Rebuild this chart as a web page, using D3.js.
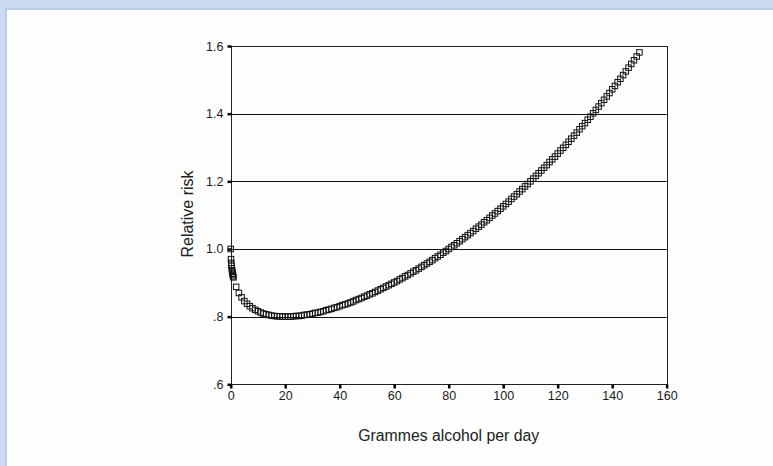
<!DOCTYPE html>
<html>
<head>
<meta charset="utf-8">
<script src="https://cdn.jsdelivr.net/npm/d3@7/dist/d3.min.js"></script>
<style>
  body { margin: 0; background: #fff; }
  svg { display: block; font-family: Arial, "Liberation Sans", sans-serif; }
</style>
</head>
<body>
<div id="chart"></div>
<script>
// grams per day (x) and relative risk (y)
const grams = [0, 0.1, 0.2, 0.3, 0.4, 0.5, 0.6, 0.7, 0.8, 0.9,
    1, 2, 3, 4, 5, 6, 7, 8, 9, 10,
    11, 12, 13, 14, 15, 16, 17, 18, 19, 20,
    21, 22, 23, 24, 25, 26, 27, 28, 29, 30,
    31, 32, 33, 34, 35, 36, 37, 38, 39, 40,
    41, 42, 43, 44, 45, 46, 47, 48, 49, 50,
    51, 52, 53, 54, 55, 56, 57, 58, 59, 60,
    61, 62, 63, 64, 65, 66, 67, 68, 69, 70,
    71, 72, 73, 74, 75, 76, 77, 78, 79, 80,
    81, 82, 83, 84, 85, 86, 87, 88, 89, 90,
    91, 92, 93, 94, 95, 96, 97, 98, 99, 100,
    101, 102, 103, 104, 105, 106, 107, 108, 109, 110,
    111, 112, 113, 114, 115, 116, 117, 118, 119, 120,
    121, 122, 123, 124, 125, 126, 127, 128, 129, 130,
    131, 132, 133, 134, 135, 136, 137, 138, 139, 140,
    141, 142, 143, 144, 145, 146, 147, 148, 149, 150]

const risk = [1.000, 0.970, 0.959, 0.950, 0.943, 0.937, 0.932, 0.927, 0.923, 0.919,
    0.916, 0.888, 0.870, 0.857, 0.846, 0.838, 0.831, 0.825, 0.820, 0.816,
    0.812, 0.809, 0.807, 0.805, 0.803, 0.802, 0.801, 0.801, 0.800, 0.800,
    0.800, 0.800, 0.801, 0.802, 0.802, 0.803, 0.805, 0.806, 0.807, 0.809,
    0.811, 0.812, 0.814, 0.816, 0.819, 0.821, 0.823, 0.826, 0.828, 0.831,
    0.834, 0.836, 0.839, 0.842, 0.845, 0.849, 0.852, 0.855, 0.859, 0.862,
    0.866, 0.869, 0.873, 0.877, 0.881, 0.885, 0.889, 0.893, 0.897, 0.901,
    0.905, 0.910, 0.914, 0.919, 0.923, 0.928, 0.933, 0.937, 0.942, 0.947,
    0.952, 0.957, 0.962, 0.967, 0.973, 0.978, 0.983, 0.989, 0.994, 1.000,
    1.006, 1.011, 1.017, 1.023, 1.029, 1.035, 1.041, 1.047, 1.053, 1.060,
    1.066, 1.072, 1.079, 1.085, 1.092, 1.099, 1.105, 1.112, 1.119, 1.126,
    1.133, 1.140, 1.148, 1.155, 1.162, 1.170, 1.177, 1.185, 1.192, 1.200,
    1.208, 1.216, 1.224, 1.232, 1.240, 1.248, 1.257, 1.265, 1.273, 1.282,
    1.291, 1.299, 1.308, 1.317, 1.326, 1.335, 1.344, 1.354, 1.363, 1.372,
    1.382, 1.391, 1.401, 1.411, 1.421, 1.431, 1.441, 1.451, 1.461, 1.472,
    1.482, 1.493, 1.503, 1.514, 1.525, 1.536, 1.547, 1.558, 1.569, 1.581]

const xTicks = [0, 20, 40, 60, 80, 100, 120, 140, 160]
const yTicks = [0.6, 0.8, 1.0, 1.2, 1.4, 1.6]
const yTickLabels = [".6", ".8", "1.0", "1.2", "1.4", "1.6"]

const width = 773, height = 466

const svg = d3.select("#chart")
    .append("svg")
    .attr("width", width)
    .attr("height", height)

// blue window frame
svg.append("rect").attr("width", width).attr("height", height).attr("fill", "#cbdaf0")
svg.append("rect").attr("x", 5).attr("y", 8).attr("width", width - 5).attr("height", height - 8).attr("fill", "#b9cdea")
svg.append("rect").attr("x", 7).attr("y", 10).attr("width", width - 7).attr("height", height - 10).attr("fill", "#fdfdfd")

const x = d3.scaleLinear().domain([0, 160]).range([230.7, 666.7])
const y = d3.scaleLinear().domain([0.6, 1.6]).range([384.3, 46])

// gridlines
svg.append("g")
    .selectAll("line")
    .data(yTicks.slice(1, -1))
    .join("line")
    .attr("x1", x(0)).attr("x2", x(160))
    .attr("y1", d => Math.round(y(d)) + 0.5).attr("y2", d => Math.round(y(d)) + 0.5)
    .attr("stroke", "#111")

// plot frame
svg.append("rect")
    .attr("x", Math.round(x(0)) + 0.5).attr("y", Math.round(y(1.6)) + 0.5)
    .attr("width", Math.round(x(160)) - Math.round(x(0)))
    .attr("height", Math.round(y(0.6)) - Math.round(y(1.6)))
    .attr("fill", "none")
    .attr("stroke", "#222")

// axes
const yAxis = svg.append("g")
    .attr("transform", `translate(${Math.round(x(0)) + 0.5},0)`)
    .call(d3.axisLeft(y).tickValues(yTicks).tickSize(4).tickPadding(4)
        .tickFormat((d, i) => yTickLabels[i]))
const xAxis = svg.append("g")
    .attr("transform", `translate(0,${Math.round(y(0.6)) + 0.5})`)
    .call(d3.axisBottom(x).tickValues(xTicks).tickSize(4).tickPadding(3))

;[xAxis, yAxis].forEach(g => {
    g.select(".domain").remove()
    g.selectAll(".tick line").attr("stroke", "#000").attr("stroke-width", 2.5)
    g.selectAll(".tick text").attr("fill", "#1a1a1a").style("font-size", "12.5px")
        .style("font-family", "Arial, 'Liberation Sans', sans-serif")
})

// markers
svg.append("g")
    .selectAll("rect")
    .data(grams)
    .join("rect")
    .attr("x", (d, i) => x(d) - 2.75)
    .attr("y", (d, i) => y(risk[i]) - 2.75)
    .attr("width", 5.5)
    .attr("height", 5.5)
    .attr("fill", "none")
    .attr("stroke", "#111")
    .attr("stroke-width", 1)

// axis titles
svg.append("text")
    .attr("x", (x(0) + x(160)) / 2)
    .attr("y", 441)
    .attr("text-anchor", "middle")
    .attr("fill", "#222")
    .style("font-size", "15.8px")
    .text("Grammes alcohol per day")

svg.append("text")
    .attr("transform", "translate(193,214) rotate(-90)")
    .attr("text-anchor", "middle")
    .attr("fill", "#222")
    .style("font-size", "16px")
    .text("Relative risk")
</script>
</body>
</html>
